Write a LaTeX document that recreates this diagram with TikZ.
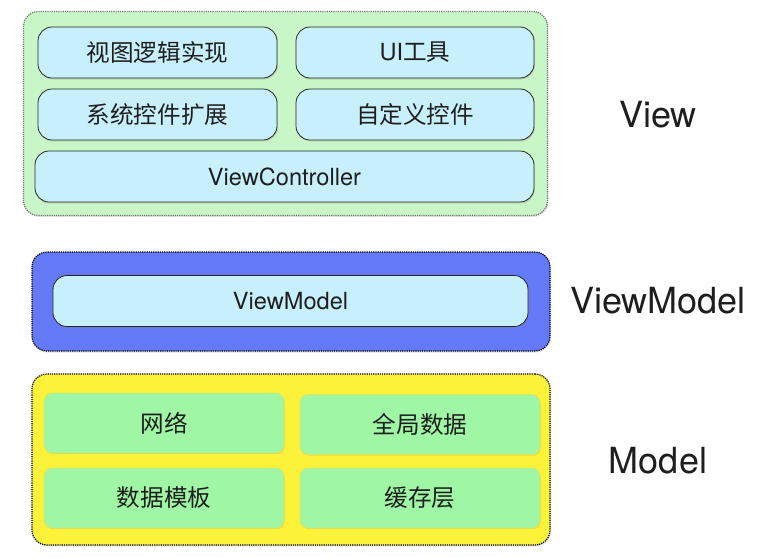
\documentclass[tikz,border=0pt]{standalone}
\usepackage{fontspec}
\setmainfont{TeX Gyre Heros}
\newfontfamily\cjk{Noto Sans CJK SC}
\usetikzlibrary{shadows}
\definecolor{viewbg}{HTML}{C9F6C6}
\definecolor{boxblue}{HTML}{C8F0FC}
\definecolor{vmbg}{HTML}{6479F6}
\definecolor{modelbg}{HTML}{FDF23A}
\definecolor{boxgreen}{HTML}{9FF7A6}
\definecolor{greenedge}{HTML}{D9E860}
\definecolor{txt}{HTML}{1E1E1E}
\newcommand{\boxfont}{\fontsize{23.6}{26}\selectfont}
\tikzset{
  container/.style={rounded corners=15pt, minimum width=#1, inner sep=0pt, outer sep=0pt, line width=1.2pt, densely dotted},
  bluebox/.style={draw=black!85, line width=0.8pt, fill=boxblue, rounded corners=14pt, inner sep=0pt, outer sep=0pt, minimum height=51pt, text=txt, font=\boxfont,
    drop shadow={shadow xshift=0.8pt, shadow yshift=-1.5pt, opacity=0.25}},
  cjkbox/.style={bluebox, font=\boxfont\cjk},
  greenbox/.style={draw=greenedge, line width=0.8pt, fill=boxgreen, rounded corners=8pt, inner sep=0pt, outer sep=0pt, minimum width=240pt, minimum height=60pt, text=txt, font=\boxfont\cjk,
    drop shadow={shadow xshift=0.8pt, shadow yshift=-1.2pt, opacity=0.2}},
  layerlabel/.style={text=txt, font=\fontsize{36}{40}\selectfont, inner sep=0pt},
}
\begin{document}
\begin{tikzpicture}[x=1pt, y=-1pt]
\useasboundingbox (0,0) rectangle (773,558);
% View
\node[container=524pt, minimum height=204pt, draw=black!55, fill=viewbg,
  drop shadow={shadow xshift=0.8pt, shadow yshift=-1.5pt, opacity=0.2}] (viewc) at (285.5,113.5) {};
\node[cjkbox, minimum width=239pt] (v1) at (157.5,52.5) {视图逻辑实现};
\node[bluebox, minimum width=238pt] (v2) at (415,52.5) {UI{\cjk 工具}};
\node[cjkbox, minimum width=239pt] (v3) at (157.5,114.5) {系统控件扩展};
\node[cjkbox, minimum width=238pt] (v4) at (415,114.5) {自定义控件};
\node[bluebox, minimum width=499pt] (vc) at (284.5,176.5) {ViewController};
% ViewModel
\node[container=518pt, minimum height=99pt, draw=black, fill=vmbg,
  drop shadow={shadow xshift=0.8pt, shadow yshift=-1.5pt, opacity=0.2}] (vmc) at (291,301.5) {};
\node[bluebox, minimum width=475pt] (vm) at (290.5,301) {ViewModel};
% Model
\node[container=518pt, minimum height=171pt, draw=black, fill=modelbg,
  drop shadow={shadow xshift=0.8pt, shadow yshift=-1.5pt, opacity=0.2}] (mc) at (291,459.5) {};
\node[greenbox] (m1) at (164,423) {网络};
\node[greenbox] (m2) at (420,424.5) {全局数据};
\node[greenbox] (m3) at (164,498) {数据模板};
\node[greenbox] (m4) at (420,498) {缓存层};
% labels
\node[layerlabel] (lv) at (658,115) {View};
\node[layerlabel] (lvm) at (658,301) {ViewModel};
\node[layerlabel] (lm) at (658,461) {Model};
\end{tikzpicture}
\end{document}
